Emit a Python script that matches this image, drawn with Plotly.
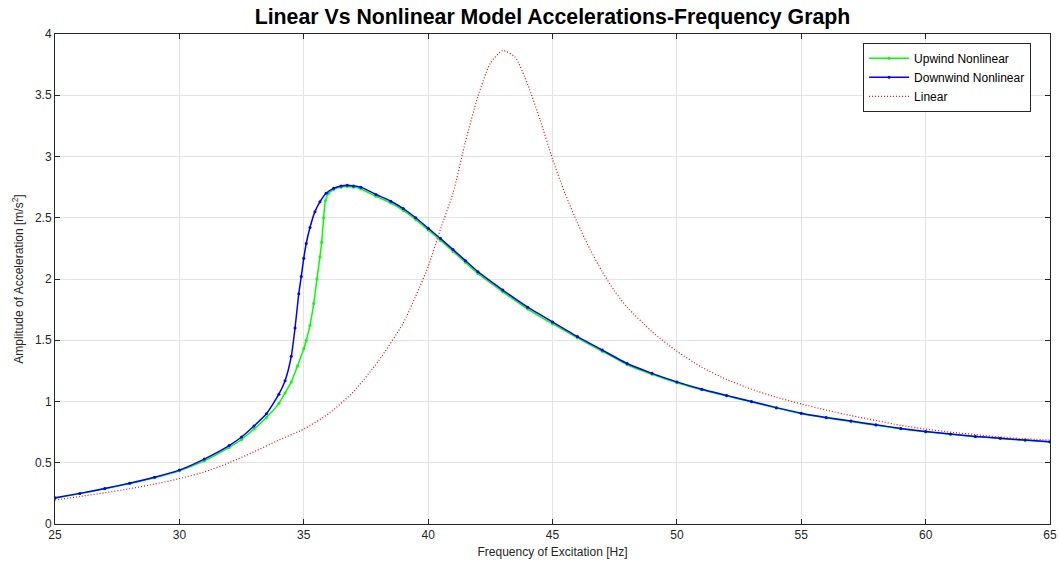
import plotly.graph_objects as go

# ---- Data ----
freq_down = [25, 26, 27, 28, 29, 30, 31, 32, 32.5, 33, 33.5, 34, 34.25, 34.5, 34.65, 34.8, 34.9,
             35.0, 35.1, 35.25, 35.45, 35.65, 35.9, 36.2, 36.5, 36.75, 37.0, 37.3, 37.9, 38.5,
             39.0, 39.5, 40, 40.5, 41, 41.5, 42, 43, 44, 45, 46, 47, 48, 49, 50, 51, 52, 53,
             54, 55, 56, 57, 58, 59, 60, 61, 62, 63, 64, 65]
acc_down = [0.215, 0.25, 0.29, 0.333, 0.382, 0.44, 0.53, 0.64, 0.71, 0.80, 0.90, 1.06, 1.17, 1.37,
            1.60, 1.88, 2.02, 2.17, 2.29, 2.42, 2.55, 2.63, 2.70, 2.74, 2.76, 2.765, 2.76, 2.75,
            2.69, 2.635, 2.575, 2.50, 2.415, 2.33, 2.24, 2.15, 2.06, 1.91, 1.77, 1.65, 1.53,
            1.42, 1.31, 1.23, 1.16, 1.10, 1.05, 1.00, 0.95, 0.905, 0.87, 0.84, 0.81, 0.78,
            0.755, 0.735, 0.715, 0.70, 0.685, 0.672]

freq_up = [25, 26, 27, 28, 29, 30, 31, 32, 32.5, 33, 33.5, 34, 34.25, 34.5, 34.75, 35.0, 35.1,
           35.25, 35.4, 35.53, 35.65, 35.72, 35.8, 35.87, 36.0, 36.2, 36.5, 36.75, 37.0, 37.3,
           37.9, 38.5, 39.0, 39.5, 40, 40.5, 41, 41.5, 42, 43, 44, 45, 46, 47, 48, 49, 50,
           51, 52, 53, 54, 55, 56, 57, 58, 59, 60, 61, 62, 63, 64, 65]
acc_up = [0.21, 0.248, 0.287, 0.33, 0.378, 0.435, 0.515, 0.625, 0.69, 0.775, 0.87, 0.985, 1.07,
          1.16, 1.29, 1.43, 1.50, 1.62, 1.80, 2.0, 2.18, 2.30, 2.50, 2.64, 2.70, 2.73, 2.75,
          2.755, 2.75, 2.735, 2.675, 2.62, 2.56, 2.485, 2.40, 2.315, 2.225, 2.135, 2.045,
          1.895, 1.755, 1.635, 1.52, 1.41, 1.30, 1.222, 1.153, 1.095, 1.045, 0.995, 0.946,
          0.90, 0.866, 0.836, 0.806, 0.777, 0.752, 0.732, 0.713, 0.698, 0.683, 0.67]

freq_lin = [25, 26, 27, 28, 29, 30, 31, 32, 33, 34, 35, 36, 37, 38, 39, 39.5, 40, 40.5, 41,
            41.5, 42, 42.5, 43, 43.5, 44, 44.5, 45, 45.5, 46, 46.5, 47, 47.5, 48, 49, 50, 51,
            52, 53, 54, 55, 56, 57, 58, 59, 60, 61, 62, 63, 64, 65]
acc_lin = [0.196, 0.225, 0.255, 0.288, 0.326, 0.37, 0.425, 0.50, 0.59, 0.685, 0.775, 0.90, 1.08,
           1.33, 1.64, 1.86, 2.10, 2.41, 2.70, 3.12, 3.49, 3.76, 3.865, 3.81, 3.59, 3.30, 2.98,
           2.70, 2.46, 2.245, 2.06, 1.90, 1.77, 1.57, 1.41, 1.28, 1.18, 1.10, 1.035, 0.98, 0.93,
           0.885, 0.845, 0.805, 0.775, 0.75, 0.73, 0.71, 0.695, 0.685]

x_ticks = [25, 30, 35, 40, 45, 50, 55, 60, 65]
y_ticks = [0, 0.5, 1, 1.5, 2, 2.5, 3, 3.5, 4]

FONT = "Liberation Sans, Arial, sans-serif"

fig = go.Figure()
fig.add_trace(go.Scatter(x=freq_up, y=acc_up, name="Upwind Nonlinear", mode="lines+markers",
                         line=dict(color="#00ff00", width=1.5, shape="spline", smoothing=0.5),
                         marker=dict(color="#00ff00", size=3)))
fig.add_trace(go.Scatter(x=freq_down, y=acc_down, name="Downwind Nonlinear", mode="lines+markers",
                         line=dict(color="#0000ff", width=1.5, shape="spline", smoothing=0.5),
                         marker=dict(color="#0000ff", size=3)))
fig.add_trace(go.Scatter(x=freq_lin, y=acc_lin, name="Linear", mode="lines",
                         line=dict(color="#ff0000", width=1.2, dash="1px,2px",
                                   shape="spline", smoothing=0.6)))

axis_common = dict(showline=True, linecolor="#262626", linewidth=1, mirror="ticks",
                   ticks="inside", ticklen=5, tickcolor="#262626", automargin=False,
                   showgrid=True, gridcolor="#e3e3e3", gridwidth=1, zeroline=False,
                   tickfont=dict(family=FONT, size=12, color="#262626"))

fig.update_xaxes(range=[25, 65], tickvals=x_ticks,
                 title=dict(text="Frequency of Excitation [Hz]", standoff=6,
                            font=dict(family=FONT, size=12, color="#262626")),
                 **axis_common)
fig.update_yaxes(range=[0, 4], tickvals=y_ticks,
                 title=dict(text="Amplitude of Acceleration [m/s<sup>2</sup>]", standoff=8,
                            font=dict(family=FONT, size=12, color="#262626")),
                 **axis_common)

fig.update_layout(
    width=1059, height=567,
    margin=dict(l=55, r=9, t=34, b=43, autoexpand=False),
    paper_bgcolor="white", plot_bgcolor="white",
    title=dict(text="<b>Linear Vs Nonlinear Model Accelerations-Frequency Graph</b>",
               x=(55 + 1050) / 2 / 1059, xanchor="center", y=1 - 17 / 567, yanchor="middle",
               font=dict(family=FONT, size=21.3, color="black")),
    legend=dict(x=0.981, y=0.982, xanchor="right", yanchor="top",
                bgcolor="white", bordercolor="#262626", borderwidth=1,
                font=dict(family=FONT, size=12, color="black"),
                tracegroupgap=0, itemwidth=40),
    showlegend=True,
)

fig.write_html("out.html", config={"displayModeBar": False},
               post_script="document.body.style.margin='0';document.body.style.overflow='hidden';")
